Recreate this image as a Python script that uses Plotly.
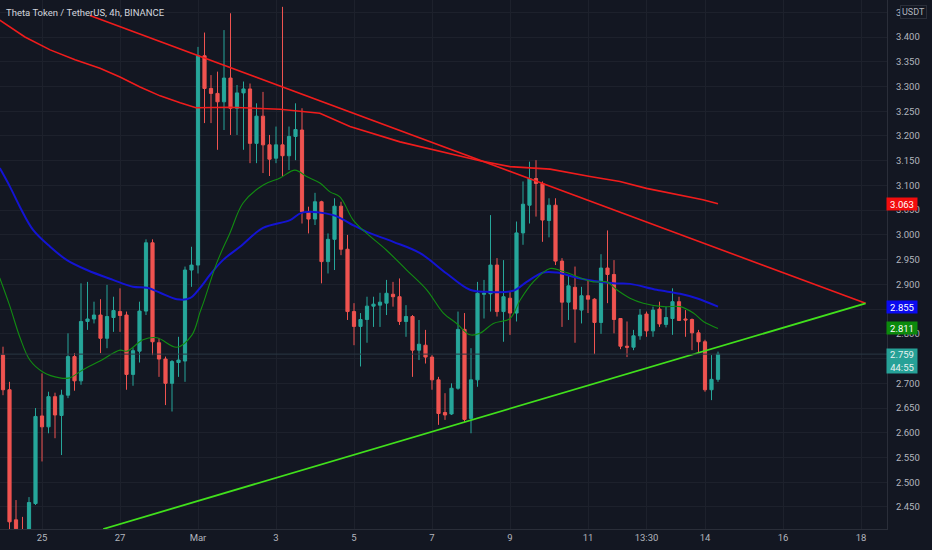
import pandas as pd
import plotly.graph_objects as go

# THETA/USDT 4h candles, first bar = 24 Feb 2022 00:00
bar_times = pd.date_range("2022-02-24 00:00", periods=111, freq="4h")

opens = [
    2.757, 2.687, 2.424, 2.400, 2.392, 2.457, 2.634, 2.612, 2.673, 2.635,
    2.676, 2.754, 2.705, 2.825, 2.830, 2.838, 2.791, 2.833, 2.845, 2.838,
    2.718, 2.765, 2.846, 2.984, 2.782, 2.749, 2.700, 2.742, 2.745, 2.929,
    2.939, 3.362, 3.296, 3.286, 3.269, 3.317, 3.256, 3.287, 3.295, 3.185,
    3.240, 3.182, 3.155, 3.182, 3.160, 3.199, 3.212, 3.047, 3.032, 3.067,
    2.946, 2.991, 3.058, 2.971, 2.845, 2.815, 2.829, 2.856, 2.858, 2.862,
    2.880, 2.875, 2.825, 2.835, 2.767, 2.777, 2.753, 2.707, 2.641, 2.638,
    2.690, 2.809, 2.629, 2.707, 2.880, 2.881, 2.939, 2.845, 2.872, 2.842,
    3.004, 3.060, 3.114, 3.104, 3.029, 3.060, 2.947, 2.864, 2.894, 2.848,
    2.877, 2.870, 2.823, 2.933, 2.920, 2.831, 2.775, 2.773, 2.796, 2.840,
    2.806, 2.850, 2.819, 2.831, 2.865, 2.830, 2.829, 2.802, 2.784, 2.687,
    2.708,
]
highs = [
    2.774, 2.703, 2.464, 2.430, 2.470, 2.650, 2.720, 2.683, 2.681, 2.687,
    2.801, 2.761, 2.902, 2.905, 2.865, 2.870, 2.899, 2.875, 2.892, 2.845,
    2.771, 2.865, 2.991, 2.991, 2.791, 2.754, 2.747, 2.794, 2.936, 2.976,
    3.380, 3.409, 3.323, 3.330, 3.414, 3.448, 3.303, 3.310, 3.306, 3.266,
    3.289, 3.202, 3.219, 3.461, 3.219, 3.266, 3.256, 3.057, 3.085, 3.069,
    3.003, 3.074, 3.067, 3.000, 2.862, 2.842, 2.875, 2.875, 2.883, 2.909,
    2.905, 2.912, 2.858, 2.838, 2.828, 2.808, 2.757, 2.713, 2.680, 2.700,
    2.845, 2.842, 2.771, 2.905, 2.909, 3.040, 2.953, 2.949, 2.885, 3.027,
    3.108, 3.148, 3.151, 3.108, 3.074, 3.074, 2.953, 2.919, 2.936, 2.895,
    2.909, 2.872, 2.961, 3.009, 2.949, 2.831, 2.825, 2.808, 2.850, 2.845,
    2.855, 2.865, 2.855, 2.892, 2.875, 2.848, 2.831, 2.808, 2.788, 2.757,
    2.764,
]
lows = [
    2.676, 2.390, 2.380, 2.375, 2.380, 2.454, 2.542, 2.599, 2.589, 2.555,
    2.670, 2.685, 2.697, 2.808, 2.821, 2.761, 2.771, 2.804, 2.804, 2.687,
    2.695, 2.742, 2.838, 2.757, 2.713, 2.656, 2.643, 2.713, 2.703, 2.895,
    2.922, 3.226, 3.226, 3.172, 3.212, 3.202, 3.202, 3.172, 3.145, 3.145,
    3.125, 3.119, 3.145, 3.118, 3.131, 3.151, 3.023, 3.003, 3.020, 2.902,
    2.922, 2.929, 2.959, 2.828, 2.777, 2.734, 2.782, 2.814, 2.814, 2.838,
    2.855, 2.818, 2.794, 2.713, 2.747, 2.740, 2.687, 2.616, 2.626, 2.636,
    2.687, 2.622, 2.599, 2.693, 2.831, 2.845, 2.835, 2.784, 2.798, 2.825,
    2.980, 3.023, 3.037, 2.986, 2.995, 2.939, 2.814, 2.828, 2.782, 2.821,
    2.842, 2.759, 2.800, 2.862, 2.801, 2.769, 2.753, 2.767, 2.788, 2.794,
    2.794, 2.814, 2.813, 2.798, 2.827, 2.794, 2.767, 2.762, 2.683, 2.666,
    2.703,
]
closes = [
    2.687, 2.420, 2.406, 2.388, 2.459, 2.633, 2.612, 2.673, 2.636, 2.676,
    2.754, 2.705, 2.825, 2.830, 2.838, 2.791, 2.835, 2.847, 2.837, 2.718,
    2.766, 2.846, 2.984, 2.784, 2.749, 2.700, 2.744, 2.747, 2.929, 2.939,
    3.362, 3.296, 3.286, 3.269, 3.317, 3.256, 3.287, 3.295, 3.185, 3.240,
    3.182, 3.153, 3.182, 3.160, 3.199, 3.213, 3.047, 3.032, 3.067, 2.946,
    2.991, 3.058, 2.971, 2.845, 2.815, 2.829, 2.856, 2.860, 2.864, 2.882,
    2.875, 2.825, 2.835, 2.767, 2.779, 2.753, 2.707, 2.639, 2.636, 2.690,
    2.809, 2.627, 2.707, 2.882, 2.882, 2.939, 2.845, 2.875, 2.842, 3.004,
    3.062, 3.114, 3.104, 3.030, 3.060, 2.947, 2.864, 2.897, 2.850, 2.877,
    2.870, 2.823, 2.933, 2.920, 2.829, 2.775, 2.773, 2.796, 2.838, 2.806,
    2.848, 2.820, 2.833, 2.865, 2.827, 2.828, 2.802, 2.784, 2.687, 2.708,
    2.759,
]

# moving averages, sampled along each line
green_ma_times = [
    "2022-02-23 22:00", "2022-02-24 04:00", "2022-02-24 10:30", "2022-02-24 16:30",
    "2022-02-25 00:30", "2022-02-25 11:00", "2022-02-25 17:00", "2022-02-26 01:00",
    "2022-02-26 11:40", "2022-02-27 00:00", "2022-02-27 04:20", "2022-02-27 14:10",
    "2022-02-27 22:45", "2022-02-28 11:00", "2022-02-28 20:20", "2022-03-01 01:15",
    "2022-03-01 03:15", "2022-03-01 11:30", "2022-03-01 19:40", "2022-03-02 03:50",
    "2022-03-02 16:10", "2022-03-03 02:30", "2022-03-03 11:40", "2022-03-03 18:50",
    "2022-03-04 03:00", "2022-03-04 09:15", "2022-03-04 15:20", "2022-03-04 23:30",
    "2022-03-05 07:50", "2022-03-05 20:00", "2022-03-06 08:25", "2022-03-06 20:45",
    "2022-03-07 07:00", "2022-03-07 15:10", "2022-03-07 23:20", "2022-03-08 05:30",
    "2022-03-08 13:45", "2022-03-09 00:00", "2022-03-09 06:10", "2022-03-09 14:20",
    "2022-03-10 00:40", "2022-03-10 08:50", "2022-03-11 03:15", "2022-03-11 11:30",
    "2022-03-11 17:40", "2022-03-12 01:50", "2022-03-12 10:00", "2022-03-12 22:20",
    "2022-03-13 08:40", "2022-03-13 16:50", "2022-03-13 23:00", "2022-03-14 08:00",
]
green_ma = [
    2.913, 2.858, 2.792, 2.747, 2.723, 2.711, 2.711, 2.727, 2.745, 2.767,
    2.765, 2.788, 2.792, 2.773, 2.798, 2.844, 2.862, 2.943, 3.004, 3.065,
    3.101, 3.115, 3.131, 3.118, 3.105, 3.087, 3.077, 3.030, 3.003, 2.969,
    2.929, 2.889, 2.842, 2.821, 2.798, 2.801, 2.821, 2.831, 2.868, 2.905,
    2.932, 2.926, 2.905, 2.905, 2.889, 2.872, 2.862, 2.855, 2.855, 2.842,
    2.825, 2.811,
]

blue_ma_times = [
    "2022-02-23 22:00", "2022-02-24 04:20", "2022-02-24 10:30", "2022-02-24 18:30",
    "2022-02-25 05:00", "2022-02-25 15:20", "2022-02-26 03:40", "2022-02-26 19:40",
    "2022-02-27 08:00", "2022-02-27 16:40", "2022-02-28 00:40", "2022-02-28 11:00",
    "2022-02-28 19:00", "2022-03-01 01:15", "2022-03-01 07:20", "2022-03-01 15:20",
    "2022-03-02 01:50", "2022-03-02 16:00", "2022-03-03 08:40", "2022-03-03 16:00",
    "2022-03-04 11:15", "2022-03-04 21:30", "2022-03-05 07:50", "2022-03-06 00:10",
    "2022-03-06 16:40", "2022-03-07 09:00", "2022-03-07 23:20", "2022-03-08 09:40",
    "2022-03-09 02:00", "2022-03-09 10:15", "2022-03-09 20:30", "2022-03-10 04:45",
    "2022-03-10 19:00", "2022-03-11 15:35", "2022-03-12 01:50", "2022-03-12 18:15",
    "2022-03-13 08:40", "2022-03-13 18:50", "2022-03-14 08:00",
]
blue_ma = [
    3.135, 3.097, 3.056, 3.010, 2.976, 2.949, 2.929, 2.909, 2.895, 2.893,
    2.883, 2.870, 2.872, 2.893, 2.919, 2.949, 2.976, 3.014, 3.030, 3.045,
    3.040, 3.023, 3.006, 2.986, 2.963, 2.922, 2.889, 2.885, 2.887, 2.905,
    2.924, 2.924, 2.912, 2.902, 2.901, 2.889, 2.881, 2.872, 2.855,
]

red_ma_times = [
    "2022-02-23 22:00", "2022-02-24 13:30", "2022-02-25 05:00", "2022-02-25 20:20",
    "2022-02-26 11:40", "2022-02-27 00:00", "2022-02-27 12:20", "2022-02-28 00:40",
    "2022-02-28 13:00", "2022-02-28 22:45", "2022-03-01 19:40", "2022-03-03 02:30",
    "2022-03-04 03:00", "2022-03-04 21:30", "2022-03-06 04:20", "2022-03-07 11:00",
    "2022-03-08 05:30", "2022-03-09 00:00", "2022-03-10 00:40", "2022-03-11 01:15",
    "2022-03-11 19:40", "2022-03-12 12:00", "2022-03-13 08:40", "2022-03-13 22:45",
    "2022-03-14 08:00",
]
red_ma = [
    3.434, 3.400, 3.374, 3.354, 3.337, 3.319, 3.299, 3.281, 3.267, 3.257,
    3.258, 3.254, 3.246, 3.219, 3.188, 3.164, 3.150, 3.138, 3.133, 3.118,
    3.108, 3.094, 3.081, 3.071, 3.063,
]

# hand drawn triangle
red_trend_times = ["2022-02-26 05:30", "2022-03-18 02:50"]
red_trend = [3.4435, 2.8617]
green_trend_times = ["2022-02-26 13:40", "2022-03-18 02:50"]
green_trend = [2.4055, 2.8617]

price_ticks = [2.45, 2.50, 2.55, 2.60, 2.65, 2.70, 2.75, 2.80, 2.85, 2.90,
               2.95, 3.00, 3.05, 3.10, 3.15, 3.20, 3.25, 3.30, 3.35, 3.40, 3.45]
hidden_ticks = [2.75, 2.85]  # fully covered by the blue and last-price badges
date_ticks = ["2022-02-25", "2022-02-27", "2022-03-01", "2022-03-03", "2022-03-05",
              "2022-03-07", "2022-03-09", "2022-03-11", "2022-03-12 12:00",
              "2022-03-14", "2022-03-16", "2022-03-18"]
date_labels = ["25", "27", "Mar", "3", "5", "7", "9", "11", "13:30", "14", "16", "18"]

BG = "#131722"
GRID = "#1d212c"
TXT = "#b2b5be"
UP = "#26a69a"
DOWN = "#ef5350"
FONT = "Roboto"

fig = go.Figure()

fig.add_trace(go.Candlestick(
    x=bar_times, open=opens, high=highs, low=lows, close=closes,
    increasing=dict(line=dict(color=UP, width=1), fillcolor=UP),
    decreasing=dict(line=dict(color=DOWN, width=1), fillcolor=DOWN),
    whiskerwidth=0, showlegend=False,
))

fig.add_trace(go.Scatter(x=red_ma_times, y=red_ma, mode="lines",
                         line=dict(color="#f01c1c", width=1.6), showlegend=False))
fig.add_trace(go.Scatter(x=blue_ma_times, y=blue_ma, mode="lines",
                         line=dict(color="#1414d2", width=2, shape="spline"), showlegend=False))
fig.add_trace(go.Scatter(x=green_ma_times, y=green_ma, mode="lines",
                         line=dict(color="#128c12", width=1.1, shape="spline"), showlegend=False))
fig.add_trace(go.Scatter(x=red_trend_times, y=red_trend, mode="lines",
                         line=dict(color="#f01c1c", width=1.6), showlegend=False))
fig.add_trace(go.Scatter(x=green_trend_times, y=green_trend, mode="lines",
                         line=dict(color="#41e01c", width=1.8), showlegend=False))

# last price line
fig.add_hline(y=closes[-1], line_color="#2a3843", line_width=1)

# price badges on the right scale
badges = [
    (red_ma[-1], f"{red_ma[-1]:.3f}", "#f20d0d"),
    (blue_ma[-1], f"{blue_ma[-1]:.3f}", "#0a0af0"),
    (green_ma[-1], f"{green_ma[-1]:.3f}", "#0c8a0c"),
]
for val, txt, col in badges:
    fig.add_annotation(x=1, xref="paper", y=val, yref="y", xanchor="left", xshift=-1,
                       text=txt, showarrow=False, bgcolor=col, width=30, height=12,
                       borderpad=0, font=dict(color="white", size=9.5, family=FONT))
fig.add_annotation(x=1, xref="paper", y=closes[-1], yref="y", xanchor="left", yanchor="top",
                   xshift=-1, yshift=6, text=f"{closes[-1]:.3f}<br>44:55", showarrow=False,
                   bgcolor="#26a197", width=30, height=24, borderpad=0,
                   font=dict(color="#e6f2f0", size=9.5, family=FONT))
fig.add_annotation(x=1, xref="paper", y=3.45, yref="y", xanchor="left", xshift=13,
                   text="USDT", showarrow=False, bgcolor=BG, bordercolor="#2a2e39",
                   borderwidth=1, borderpad=1, font=dict(color=TXT, size=9, family=FONT))

fig.add_annotation(x=0, xref="paper", y=1, yref="paper", xanchor="left", yanchor="top",
                   xshift=4, yshift=-5, text="Theta Token / TetherUS, 4h, BINANCE",
                   showarrow=False, font=dict(color="#d1d4dc", size=9.5, family=FONT))

fig.update_layout(
    width=932, height=550,
    margin=dict(l=0, r=45, t=0, b=21),
    paper_bgcolor=BG, plot_bgcolor=BG,
    font=dict(family=FONT, color=TXT, size=9.5),
    showlegend=False,
    xaxis=dict(
        type="date", range=["2022-02-23 22:09", "2022-03-18 16:00"],
        rangeslider=dict(visible=False),
        tickvals=date_ticks, ticktext=date_labels, ticks="",
        showgrid=True, gridcolor=GRID, zeroline=False,
        showline=True, linecolor="#2a2e39", mirror=False,
        tickfont=dict(size=9.5, color=TXT),
    ),
    yaxis=dict(
        side="right", range=[2.4055, 3.4748],
        tickvals=price_ticks,
        ticktext=["" if v in hidden_ticks else f"{v:.3f}" for v in price_ticks],
        ticks="", showgrid=True, gridcolor=GRID, zeroline=False,
        showline=True, linecolor="#2a2e39",
        tickfont=dict(size=9.5, color=TXT), ticklabelstandoff=6,
    ),
)

# page margin off so the chart sits flush in the window
fig.write_html("out.html", config={"displayModeBar": False},
               post_script="document.body.style.margin='0';")
